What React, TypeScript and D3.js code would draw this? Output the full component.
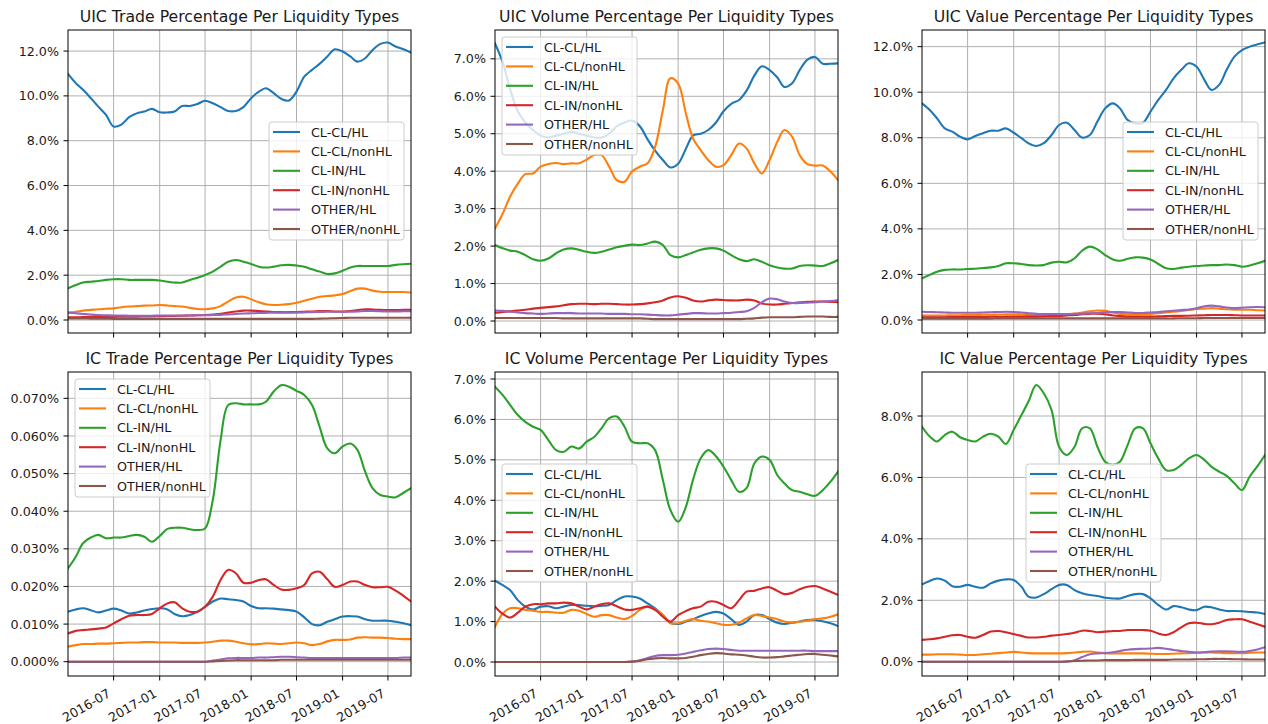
import React from 'react';
import * as d3 from 'd3';

// ---------- data ----------
const SERIES_NAMES = ['CL-CL/HL', 'CL-CL/nonHL', 'CL-IN/HL', 'CL-IN/nonHL', 'OTHER/HL', 'OTHER/nonHL'];
const COLORS = ['#1f77b4', '#ff7f0e', '#2ca02c', '#d62728', '#9467bd', '#8c564b'];
const MONTHS = d3.range(46).map((i) => new Date(2016, i, 1));
const X_TICK_LABELS = ['2016-07', '2017-01', '2017-07', '2018-01', '2018-07', '2019-01', '2019-07'];

// UIC Trade
const uicTrade_CLCL_HL = [10.98, 10.57, 10.27, 9.9, 9.52, 9.15, 8.63, 8.72, 9.05, 9.22, 9.3, 9.42, 9.27, 9.26, 9.3, 9.55, 9.55, 9.64, 9.78, 9.67, 9.5, 9.33, 9.33, 9.5, 9.9, 10.19, 10.34, 10.12, 9.87, 9.79, 10.19, 10.86, 11.16, 11.43, 11.76, 12.08, 11.98, 11.76, 11.53, 11.68, 12.05, 12.32, 12.38, 12.2, 12.08, 11.93];
const uicTrade_CLCL_nonHL = [0.33, 0.37, 0.42, 0.45, 0.48, 0.5, 0.52, 0.57, 0.6, 0.62, 0.64, 0.65, 0.67, 0.65, 0.62, 0.6, 0.54, 0.49, 0.48, 0.52, 0.62, 0.82, 1.0, 1.04, 0.92, 0.79, 0.7, 0.67, 0.68, 0.71, 0.77, 0.86, 0.95, 1.04, 1.07, 1.1, 1.16, 1.29, 1.4, 1.4, 1.31, 1.26, 1.25, 1.25, 1.25, 1.23];
const uicTrade_CLIN_HL = [1.41, 1.56, 1.67, 1.71, 1.74, 1.79, 1.82, 1.82, 1.79, 1.79, 1.79, 1.79, 1.76, 1.71, 1.67, 1.67, 1.79, 1.89, 2.01, 2.16, 2.38, 2.6, 2.68, 2.6, 2.5, 2.38, 2.34, 2.38, 2.44, 2.46, 2.43, 2.38, 2.26, 2.16, 2.05, 2.08, 2.2, 2.34, 2.41, 2.41, 2.41, 2.41, 2.41, 2.46, 2.49, 2.51];
const uicTrade_CLIN_nonHL = [0.12, 0.12, 0.13, 0.13, 0.13, 0.14, 0.14, 0.15, 0.15, 0.15, 0.16, 0.16, 0.17, 0.18, 0.18, 0.19, 0.2, 0.21, 0.22, 0.24, 0.28, 0.33, 0.38, 0.42, 0.42, 0.4, 0.38, 0.36, 0.35, 0.35, 0.36, 0.37, 0.38, 0.4, 0.4, 0.38, 0.38, 0.4, 0.44, 0.48, 0.47, 0.45, 0.44, 0.44, 0.45, 0.45];
const uicTrade_OTHER_HL = [0.33, 0.3, 0.27, 0.24, 0.22, 0.21, 0.2, 0.2, 0.19, 0.19, 0.19, 0.19, 0.2, 0.2, 0.2, 0.2, 0.2, 0.21, 0.21, 0.22, 0.23, 0.25, 0.27, 0.29, 0.3, 0.31, 0.32, 0.33, 0.33, 0.33, 0.33, 0.34, 0.35, 0.36, 0.37, 0.37, 0.36, 0.37, 0.38, 0.4, 0.4, 0.39, 0.38, 0.38, 0.39, 0.39];
const uicTrade_OTHER_nonHL = [0.07, 0.07, 0.07, 0.06, 0.06, 0.06, 0.05, 0.05, 0.05, 0.05, 0.05, 0.05, 0.05, 0.05, 0.05, 0.05, 0.05, 0.05, 0.05, 0.05, 0.05, 0.05, 0.05, 0.05, 0.05, 0.05, 0.05, 0.05, 0.05, 0.05, 0.05, 0.05, 0.05, 0.06, 0.07, 0.08, 0.09, 0.1, 0.1, 0.1, 0.1, 0.1, 0.1, 0.1, 0.1, 0.1];

// UIC Volume
const uicVolume_CLCL_HL = [7.41, 6.9, 6.2, 5.6, 5.3, 5.1, 4.95, 4.9, 4.95, 5.0, 5.05, 5.0, 4.95, 4.9, 4.9, 5.0, 5.2, 5.3, 5.35, 5.2, 4.85, 4.55, 4.3, 4.1, 4.2, 4.6, 4.95, 5.0, 5.1, 5.3, 5.6, 5.8, 5.9, 6.15, 6.55, 6.8, 6.7, 6.5, 6.25, 6.35, 6.7, 6.98, 7.05, 6.87, 6.87, 6.88];
const uicVolume_CLCL_nonHL = [2.47, 2.87, 3.32, 3.67, 3.92, 3.94, 4.12, 4.19, 4.22, 4.19, 4.21, 4.21, 4.31, 4.43, 4.43, 4.12, 3.76, 3.72, 3.99, 4.12, 4.21, 4.65, 5.63, 6.48, 6.34, 5.54, 4.88, 4.56, 4.3, 4.12, 4.16, 4.43, 4.74, 4.61, 4.21, 3.94, 4.3, 4.79, 5.1, 4.92, 4.43, 4.19, 4.15, 4.15, 3.99, 3.76];
const uicVolume_CLIN_HL = [2.03, 1.94, 1.88, 1.85, 1.76, 1.65, 1.61, 1.67, 1.81, 1.91, 1.94, 1.9, 1.85, 1.82, 1.85, 1.91, 1.97, 2.01, 2.04, 2.03, 2.07, 2.12, 2.03, 1.76, 1.7, 1.76, 1.83, 1.9, 1.94, 1.94, 1.88, 1.76, 1.65, 1.6, 1.65, 1.58, 1.49, 1.43, 1.4, 1.4, 1.47, 1.49, 1.48, 1.47, 1.54, 1.63];
const uicVolume_CLIN_nonHL = [0.22, 0.24, 0.26, 0.28, 0.3, 0.33, 0.35, 0.37, 0.39, 0.42, 0.45, 0.46, 0.46, 0.45, 0.46, 0.46, 0.45, 0.44, 0.44, 0.45, 0.47, 0.5, 0.55, 0.63, 0.66, 0.62, 0.55, 0.52, 0.55, 0.57, 0.56, 0.55, 0.55, 0.57, 0.55, 0.47, 0.44, 0.44, 0.46, 0.48, 0.5, 0.51, 0.52, 0.52, 0.51, 0.5];
const uicVolume_OTHER_HL = [0.28, 0.27, 0.25, 0.23, 0.21, 0.2, 0.19, 0.2, 0.21, 0.21, 0.21, 0.2, 0.2, 0.2, 0.2, 0.19, 0.19, 0.19, 0.18, 0.18, 0.17, 0.16, 0.15, 0.15, 0.17, 0.19, 0.21, 0.21, 0.2, 0.2, 0.21, 0.22, 0.24, 0.26, 0.35, 0.5, 0.6, 0.58, 0.52, 0.48, 0.48, 0.49, 0.5, 0.52, 0.53, 0.55];
const uicVolume_OTHER_nonHL = [0.08, 0.08, 0.08, 0.08, 0.08, 0.08, 0.08, 0.08, 0.08, 0.07, 0.07, 0.07, 0.07, 0.07, 0.07, 0.07, 0.07, 0.07, 0.07, 0.07, 0.06, 0.05, 0.05, 0.05, 0.05, 0.05, 0.05, 0.05, 0.05, 0.05, 0.05, 0.05, 0.05, 0.06, 0.07, 0.09, 0.1, 0.1, 0.1, 0.1, 0.11, 0.12, 0.12, 0.12, 0.11, 0.11];

// UIC Value
const uicValue_CLCL_HL = [9.51, 9.22, 8.85, 8.41, 8.27, 8.05, 7.93, 8.08, 8.2, 8.31, 8.31, 8.41, 8.22, 7.98, 7.76, 7.64, 7.76, 8.12, 8.56, 8.66, 8.34, 8.01, 8.12, 8.71, 9.29, 9.51, 9.29, 8.78, 8.63, 8.66, 9.15, 9.66, 10.1, 10.61, 10.98, 11.27, 11.12, 10.54, 10.1, 10.32, 10.98, 11.56, 11.85, 12.0, 12.1, 12.18];
const uicValue_CLCL_nonHL = [0.2, 0.2, 0.2, 0.2, 0.21, 0.21, 0.22, 0.22, 0.23, 0.23, 0.24, 0.25, 0.25, 0.24, 0.22, 0.21, 0.21, 0.22, 0.23, 0.25, 0.28, 0.33, 0.38, 0.42, 0.4, 0.33, 0.27, 0.25, 0.24, 0.25, 0.27, 0.3, 0.33, 0.36, 0.4, 0.44, 0.48, 0.5, 0.52, 0.5, 0.47, 0.45, 0.45, 0.45, 0.43, 0.42];
const uicValue_CLIN_HL = [1.83, 1.98, 2.12, 2.2, 2.22, 2.22, 2.24, 2.25, 2.28, 2.31, 2.37, 2.49, 2.49, 2.46, 2.41, 2.39, 2.41, 2.52, 2.56, 2.53, 2.71, 3.04, 3.22, 3.1, 2.85, 2.66, 2.6, 2.69, 2.75, 2.74, 2.66, 2.46, 2.27, 2.24, 2.3, 2.34, 2.37, 2.39, 2.41, 2.41, 2.44, 2.41, 2.34, 2.39, 2.49, 2.6];
const uicValue_CLIN_nonHL = [0.12, 0.12, 0.12, 0.12, 0.13, 0.13, 0.13, 0.13, 0.13, 0.14, 0.14, 0.15, 0.15, 0.15, 0.15, 0.15, 0.16, 0.17, 0.18, 0.2, 0.22, 0.25, 0.27, 0.28, 0.25, 0.2, 0.17, 0.15, 0.15, 0.15, 0.15, 0.16, 0.17, 0.18, 0.18, 0.19, 0.2, 0.21, 0.22, 0.22, 0.22, 0.21, 0.2, 0.2, 0.2, 0.2];
const uicValue_OTHER_HL = [0.36, 0.35, 0.34, 0.33, 0.32, 0.32, 0.32, 0.32, 0.33, 0.34, 0.35, 0.36, 0.35, 0.33, 0.3, 0.27, 0.26, 0.26, 0.26, 0.26, 0.27, 0.28, 0.3, 0.31, 0.33, 0.35, 0.35, 0.33, 0.31, 0.31, 0.33, 0.35, 0.38, 0.41, 0.44, 0.46, 0.52, 0.6, 0.63, 0.6, 0.55, 0.52, 0.54, 0.56, 0.57, 0.56];
const uicValue_OTHER_nonHL = [0.06, 0.06, 0.06, 0.06, 0.06, 0.06, 0.06, 0.06, 0.06, 0.06, 0.07, 0.07, 0.07, 0.07, 0.07, 0.07, 0.07, 0.07, 0.07, 0.07, 0.07, 0.07, 0.07, 0.07, 0.07, 0.07, 0.07, 0.07, 0.07, 0.07, 0.07, 0.07, 0.07, 0.07, 0.08, 0.08, 0.08, 0.09, 0.09, 0.09, 0.09, 0.09, 0.09, 0.09, 0.09, 0.09];

// IC Trade
const icTrade_CLCL_HL = [0.0133, 0.0139, 0.0142, 0.0137, 0.0131, 0.0136, 0.0141, 0.0136, 0.0128, 0.0131, 0.0136, 0.014, 0.0142, 0.0139, 0.0127, 0.0121, 0.0124, 0.0133, 0.0146, 0.016, 0.0168, 0.0166, 0.0164, 0.016, 0.0148, 0.0142, 0.0142, 0.0141, 0.0139, 0.0137, 0.0133, 0.0118, 0.01, 0.0097, 0.0106, 0.0113, 0.012, 0.0121, 0.012, 0.0113, 0.0109, 0.0109, 0.0109, 0.0106, 0.0102, 0.0097];
const icTrade_CLCL_nonHL = [0.004, 0.0044, 0.0047, 0.0047, 0.0048, 0.0048, 0.0049, 0.005, 0.0051, 0.0051, 0.0052, 0.0052, 0.0051, 0.0051, 0.0051, 0.005, 0.005, 0.005, 0.0051, 0.0053, 0.0056, 0.0056, 0.0053, 0.0049, 0.0046, 0.0047, 0.0049, 0.0048, 0.0047, 0.0049, 0.0051, 0.0049, 0.0044, 0.0047, 0.0054, 0.0058, 0.0058, 0.0059, 0.0064, 0.0065, 0.0064, 0.0064, 0.0063, 0.0061, 0.006, 0.006];
const icTrade_CLIN_HL = [0.0248, 0.0279, 0.0315, 0.033, 0.0337, 0.0328, 0.033, 0.033, 0.0334, 0.0337, 0.0332, 0.0319, 0.0334, 0.0353, 0.0356, 0.0356, 0.0352, 0.035, 0.0354, 0.043, 0.0589, 0.0682, 0.0687, 0.0684, 0.0684, 0.0684, 0.0691, 0.0718, 0.0735, 0.0731, 0.072, 0.0709, 0.0682, 0.0625, 0.0567, 0.0554, 0.0572, 0.058, 0.0563, 0.0505, 0.0461, 0.0443, 0.0439, 0.0437, 0.0449, 0.0461];
const icTrade_CLIN_nonHL = [0.0075, 0.0082, 0.0084, 0.0086, 0.0088, 0.0091, 0.0102, 0.0113, 0.0122, 0.0124, 0.0124, 0.0127, 0.0142, 0.0155, 0.0158, 0.0142, 0.0133, 0.0133, 0.0146, 0.0173, 0.0217, 0.0244, 0.0235, 0.021, 0.021, 0.0217, 0.0219, 0.0204, 0.0192, 0.0191, 0.0195, 0.0204, 0.0235, 0.0239, 0.0219, 0.0199, 0.0204, 0.0213, 0.0213, 0.0204, 0.0198, 0.0198, 0.0199, 0.0189, 0.0175, 0.016];
const icTrade_OTHER_HL = [0, 0, 0, 0, 0, 0, 0, 0, 0, 0, 0, 0, 0, 0, 0, 0, 0, 0, 0, 0.0003, 0.0006, 0.0009, 0.001, 0.001, 0.001, 0.0011, 0.0011, 0.0012, 0.0013, 0.0013, 0.0012, 0.0011, 0.001, 0.001, 0.001, 0.001, 0.001, 0.001, 0.001, 0.001, 0.001, 0.001, 0.001, 0.001, 0.0011, 0.0011];
const icTrade_OTHER_nonHL = [0, 0, 0, 0, 0, 0, 0, 0, 0, 0, 0, 0, 0, 0, 0, 0, 0, 0, 0, 0.0001, 0.0002, 0.0003, 0.0004, 0.0004, 0.0004, 0.0004, 0.0004, 0.0004, 0.0005, 0.0005, 0.0005, 0.0005, 0.0005, 0.0005, 0.0005, 0.0005, 0.0005, 0.0005, 0.0005, 0.0005, 0.0005, 0.0005, 0.0005, 0.0005, 0.0005, 0.0005];

// IC Volume
const icVolume_CLCL_HL = [2.01, 1.9, 1.78, 1.53, 1.37, 1.3, 1.37, 1.38, 1.33, 1.37, 1.41, 1.41, 1.39, 1.38, 1.39, 1.41, 1.53, 1.62, 1.62, 1.57, 1.45, 1.33, 1.16, 0.97, 0.94, 1.0, 1.06, 1.14, 1.2, 1.24, 1.2, 1.06, 0.92, 1.0, 1.16, 1.16, 1.06, 0.97, 0.94, 0.97, 1.0, 1.04, 1.04, 1.01, 0.96, 0.89];
const icVolume_CLCL_nonHL = [0.87, 1.2, 1.33, 1.33, 1.29, 1.27, 1.24, 1.24, 1.22, 1.22, 1.29, 1.27, 1.19, 1.12, 1.16, 1.16, 1.1, 1.06, 1.14, 1.29, 1.37, 1.3, 1.16, 0.96, 0.96, 1.02, 1.06, 1.02, 1.0, 0.96, 0.92, 0.92, 0.97, 1.08, 1.16, 1.14, 1.1, 1.06, 1.0, 0.97, 1.0, 1.02, 1.06, 1.08, 1.12, 1.18];
const icVolume_CLIN_HL = [6.81, 6.6, 6.36, 6.11, 5.94, 5.82, 5.74, 5.49, 5.24, 5.2, 5.33, 5.28, 5.45, 5.57, 5.78, 6.03, 6.07, 5.82, 5.45, 5.41, 5.41, 5.24, 4.5, 3.76, 3.47, 3.84, 4.5, 5.04, 5.24, 5.09, 4.83, 4.5, 4.21, 4.3, 4.91, 5.08, 5.0, 4.62, 4.42, 4.25, 4.21, 4.15, 4.11, 4.25, 4.46, 4.71];
const icVolume_CLIN_nonHL = [1.37, 1.19, 1.1, 1.22, 1.37, 1.43, 1.43, 1.45, 1.45, 1.47, 1.45, 1.37, 1.3, 1.37, 1.43, 1.45, 1.38, 1.3, 1.29, 1.33, 1.37, 1.29, 1.12, 1.0, 1.16, 1.26, 1.33, 1.37, 1.49, 1.49, 1.41, 1.33, 1.53, 1.74, 1.76, 1.82, 1.85, 1.76, 1.68, 1.71, 1.8, 1.86, 1.88, 1.82, 1.74, 1.66];
const icVolume_OTHER_HL = [0, 0, 0, 0, 0, 0, 0, 0, 0, 0, 0, 0, 0, 0, 0, 0, 0, 0, 0.01, 0.04, 0.1, 0.15, 0.17, 0.17, 0.18, 0.21, 0.25, 0.29, 0.32, 0.33, 0.32, 0.3, 0.28, 0.28, 0.28, 0.28, 0.28, 0.28, 0.28, 0.28, 0.28, 0.28, 0.27, 0.27, 0.27, 0.27];
const icVolume_OTHER_nonHL = [0, 0, 0, 0, 0, 0, 0, 0, 0, 0, 0, 0, 0, 0, 0, 0, 0, 0, 0.01, 0.03, 0.07, 0.09, 0.1, 0.09, 0.09, 0.1, 0.13, 0.17, 0.2, 0.22, 0.21, 0.19, 0.18, 0.16, 0.13, 0.11, 0.11, 0.12, 0.14, 0.16, 0.18, 0.2, 0.2, 0.18, 0.16, 0.14];

// IC Value
const icValue_CLCL_HL = [2.52, 2.63, 2.71, 2.64, 2.46, 2.44, 2.5, 2.44, 2.41, 2.55, 2.64, 2.68, 2.66, 2.44, 2.12, 2.09, 2.2, 2.36, 2.5, 2.5, 2.33, 2.23, 2.17, 2.14, 2.08, 2.06, 2.06, 2.14, 2.2, 2.2, 2.06, 1.85, 1.7, 1.81, 1.77, 1.7, 1.68, 1.79, 1.77, 1.7, 1.65, 1.65, 1.64, 1.62, 1.6, 1.55];
const icValue_CLCL_nonHL = [0.23, 0.23, 0.24, 0.24, 0.24, 0.23, 0.22, 0.22, 0.24, 0.26, 0.28, 0.3, 0.32, 0.3, 0.28, 0.27, 0.27, 0.27, 0.27, 0.28, 0.3, 0.32, 0.33, 0.3, 0.28, 0.27, 0.27, 0.27, 0.27, 0.27, 0.26, 0.25, 0.25, 0.26, 0.27, 0.28, 0.29, 0.3, 0.3, 0.29, 0.28, 0.28, 0.28, 0.29, 0.3, 0.3];
const icValue_CLIN_HL = [7.65, 7.33, 7.17, 7.38, 7.49, 7.31, 7.22, 7.17, 7.33, 7.42, 7.33, 7.09, 7.55, 8.03, 8.47, 9.01, 8.74, 8.2, 7.0, 6.73, 7.0, 7.6, 7.6, 7.0, 6.51, 6.41, 6.51, 7.06, 7.6, 7.6, 7.11, 6.62, 6.24, 6.24, 6.41, 6.62, 6.73, 6.57, 6.35, 6.19, 6.05, 5.81, 5.59, 6.03, 6.37, 6.73];
const icValue_CLIN_nonHL = [0.71, 0.73, 0.76, 0.81, 0.86, 0.87, 0.81, 0.78, 0.87, 0.98, 1.0, 0.96, 0.9, 0.84, 0.79, 0.79, 0.81, 0.85, 0.87, 0.9, 0.94, 1.01, 1.0, 0.96, 0.98, 1.0, 1.0, 1.03, 1.03, 1.03, 1.01, 0.92, 0.87, 0.96, 1.12, 1.25, 1.27, 1.23, 1.22, 1.27, 1.36, 1.38, 1.38, 1.3, 1.22, 1.14];
const icValue_OTHER_HL = [0, 0, 0, 0, 0, 0, 0, 0, 0, 0, 0, 0, 0, 0, 0, 0, 0, 0, 0, 0, 0.05, 0.15, 0.24, 0.27, 0.28, 0.31, 0.35, 0.39, 0.41, 0.42, 0.43, 0.45, 0.42, 0.38, 0.35, 0.32, 0.3, 0.31, 0.33, 0.34, 0.34, 0.33, 0.32, 0.35, 0.4, 0.47];
const icValue_OTHER_nonHL = [0, 0, 0, 0, 0, 0, 0, 0, 0, 0, 0, 0, 0, 0, 0, 0, 0, 0, 0, 0.01, 0.02, 0.03, 0.04, 0.04, 0.05, 0.05, 0.05, 0.05, 0.06, 0.06, 0.06, 0.06, 0.06, 0.07, 0.07, 0.07, 0.08, 0.08, 0.09, 0.09, 0.09, 0.08, 0.08, 0.07, 0.07, 0.07];

const TITLES = [
  'UIC Trade Percentage Per Liquidity Types',
  'UIC Volume Percentage Per Liquidity Types',
  'UIC Value Percentage Per Liquidity Types',
  'IC Trade Percentage Per Liquidity Types',
  'IC Volume Percentage Per Liquidity Types',
  'IC Value Percentage Per Liquidity Types',
];

const Y_TICKS_UIC_TRADE = [0, 2, 4, 6, 8, 10, 12];
const Y_TICKS_UIC_VOLUME = [0, 1, 2, 3, 4, 5, 6, 7];
const Y_TICKS_UIC_VALUE = [0, 2, 4, 6, 8, 10, 12];
const Y_TICKS_IC_TRADE = [0, 0.01, 0.02, 0.03, 0.04, 0.05, 0.06, 0.07];
const Y_TICKS_IC_VOLUME = [0, 1, 2, 3, 4, 5, 6, 7];
const Y_TICKS_IC_VALUE = [0, 2, 4, 6, 8];

// ---------- layout ----------
const FONT = '"DejaVu Sans", sans-serif';
const TEXT_COLOR = '#1a1a1a';
const COLS = [[68, 411], [495, 838], [922, 1265]];
const ROWS = [[30, 333], [372, 676]];

const PANELS = [
  { title: TITLES[0], col: 0, row: 0, yDomain: [-0.58, 12.94], yTicks: Y_TICKS_UIC_TRADE, dec: 1, legend: [269, 122],
    series: [uicTrade_CLCL_HL, uicTrade_CLCL_nonHL, uicTrade_CLIN_HL, uicTrade_CLIN_nonHL, uicTrade_OTHER_HL, uicTrade_OTHER_nonHL] },
  { title: TITLES[1], col: 1, row: 0, yDomain: [-0.32, 7.77], yTicks: Y_TICKS_UIC_VOLUME, dec: 1, legend: [502, 37],
    series: [uicVolume_CLCL_HL, uicVolume_CLCL_nonHL, uicVolume_CLIN_HL, uicVolume_CLIN_nonHL, uicVolume_OTHER_HL, uicVolume_OTHER_nonHL] },
  { title: TITLES[2], col: 2, row: 0, yDomain: [-0.57, 12.73], yTicks: Y_TICKS_UIC_VALUE, dec: 1, legend: [1123, 122],
    series: [uicValue_CLCL_HL, uicValue_CLCL_nonHL, uicValue_CLIN_HL, uicValue_CLIN_nonHL, uicValue_OTHER_HL, uicValue_OTHER_nonHL] },
  { title: TITLES[3], col: 0, row: 1, yDomain: [-0.0038, 0.077], yTicks: Y_TICKS_IC_TRADE, dec: 3, legend: [75, 379],
    series: [icTrade_CLCL_HL, icTrade_CLCL_nonHL, icTrade_CLIN_HL, icTrade_CLIN_nonHL, icTrade_OTHER_HL, icTrade_OTHER_nonHL] },
  { title: TITLES[4], col: 1, row: 1, yDomain: [-0.346, 7.173], yTicks: Y_TICKS_IC_VOLUME, dec: 1, legend: [502, 464],
    series: [icVolume_CLCL_HL, icVolume_CLCL_nonHL, icVolume_CLIN_HL, icVolume_CLIN_nonHL, icVolume_OTHER_HL, icVolume_OTHER_nonHL] },
  { title: TITLES[5], col: 2, row: 1, yDomain: [-0.466, 9.433], yTicks: Y_TICKS_IC_VALUE, dec: 1, legend: [1026, 464],
    series: [icValue_CLCL_HL, icValue_CLCL_nonHL, icValue_CLIN_HL, icValue_CLIN_nonHL, icValue_OTHER_HL, icValue_OTHER_nonHL] },
];

const X_TICK_DATES = X_TICK_LABELS.map((s) => d3.timeParse('%Y-%m')(s) as Date);
const X_DOMAIN = [MONTHS[0], MONTHS[MONTHS.length - 1]];

function Panel({ p, idx }: { p: any; idx: number }) {
  const [x0, x1] = COLS[p.col];
  const [y0, y1] = ROWS[p.row];
  const x = d3.scaleTime().domain(X_DOMAIN).range([x0, x1]);
  const y = d3.scaleLinear().domain(p.yDomain).range([y1, y0]);
  const line = d3
    .line<number>()
    .x((_, i) => x(MONTHS[i]))
    .y((d) => y(d))
    .curve(d3.curveCatmullRom.alpha(0.5));
  const clipId = `clip-${idx}`;
  const fmt = (v: number) => v.toFixed(p.dec) + '%';
  const [lx, ly] = p.legend;
  return (
    <g>
      <defs>
        <clipPath id={clipId}>
          <rect x={x0} y={y0} width={x1 - x0} height={y1 - y0} />
        </clipPath>
      </defs>
      <text x={(x0 + x1) / 2} y={y0 - 8} textAnchor="middle" fontSize={15.7} fill={TEXT_COLOR} fontFamily={FONT}>
        {p.title}
      </text>
      {/* grid */}
      {X_TICK_DATES.map((d, i) => (
        <line key={'gx' + i} x1={x(d)} x2={x(d)} y1={y0} y2={y1} stroke="#b0b0b0" strokeWidth={1} />
      ))}
      {p.yTicks.map((t: number, i: number) => (
        <line key={'gy' + i} x1={x0} x2={x1} y1={y(t)} y2={y(t)} stroke="#b0b0b0" strokeWidth={1} />
      ))}
      {/* series */}
      <g clipPath={`url(#${clipId})`}>
        {p.series.map((s: number[], i: number) => (
          <path key={'s' + i} d={line(s) || ''} fill="none" stroke={COLORS[i]} strokeWidth={2.1} strokeLinejoin="round" strokeLinecap="square" />
        ))}
      </g>
      {/* spines */}
      <rect x={x0} y={y0} width={x1 - x0} height={y1 - y0} fill="none" stroke="#000" strokeWidth={1} />
      {/* y ticks */}
      {p.yTicks.map((t: number, i: number) => (
        <g key={'yt' + i}>
          <line x1={x0 - 4.5} x2={x0} y1={y(t)} y2={y(t)} stroke="#000" strokeWidth={1} />
          <text x={x0 - 9} y={y(t)} dy="0.36em" textAnchor="end" fontSize={12.7} fill={TEXT_COLOR} fontFamily={FONT}>
            {fmt(t)}
          </text>
        </g>
      ))}
      {/* x ticks */}
      {X_TICK_DATES.map((d, i) => (
        <g key={'xt' + i}>
          <line x1={x(d)} x2={x(d)} y1={y1} y2={y1 + 4.5} stroke="#000" strokeWidth={1} />
          {p.row === 1 && (
            <text
              transform={`translate(${x(d) - 2},${y1 + 20}) rotate(-30)`}
              textAnchor="end"
              fontSize={12.7}
              fill={TEXT_COLOR}
              fontFamily={FONT}
            >
              {d3.timeFormat('%Y-%m')(d)}
            </text>
          )}
        </g>
      ))}
      {/* legend */}
      <g transform={`translate(${lx},${ly})`}>
        <rect x={0} y={0} width={135} height={118} rx={3} fill="#fff" fillOpacity={0.8} stroke="#cccccc" strokeWidth={1} />
        {SERIES_NAMES.map((name, i) => (
          <g key={'lg' + i} transform={`translate(0,${10 + i * 19.4})`}>
            <line x1={4} x2={31} y1={0} y2={0} stroke={COLORS[i]} strokeWidth={2.1} />
            <text x={42} y={0} dy="0.36em" fontSize={12.7} fill={TEXT_COLOR} fontFamily={FONT}>
              {name}
            </text>
          </g>
        ))}
      </g>
    </g>
  );
}

export default function App() {
  return (
    <svg
      width={1268}
      height={724}
      style={{ position: 'absolute', left: 0, top: 0, display: 'block', background: '#fff' }}
    >
      <rect x={0} y={0} width={1268} height={724} fill="#fff" />
      {PANELS.map((p, i) => (
        <Panel key={i} p={p} idx={i} />
      ))}
    </svg>
  );
}
